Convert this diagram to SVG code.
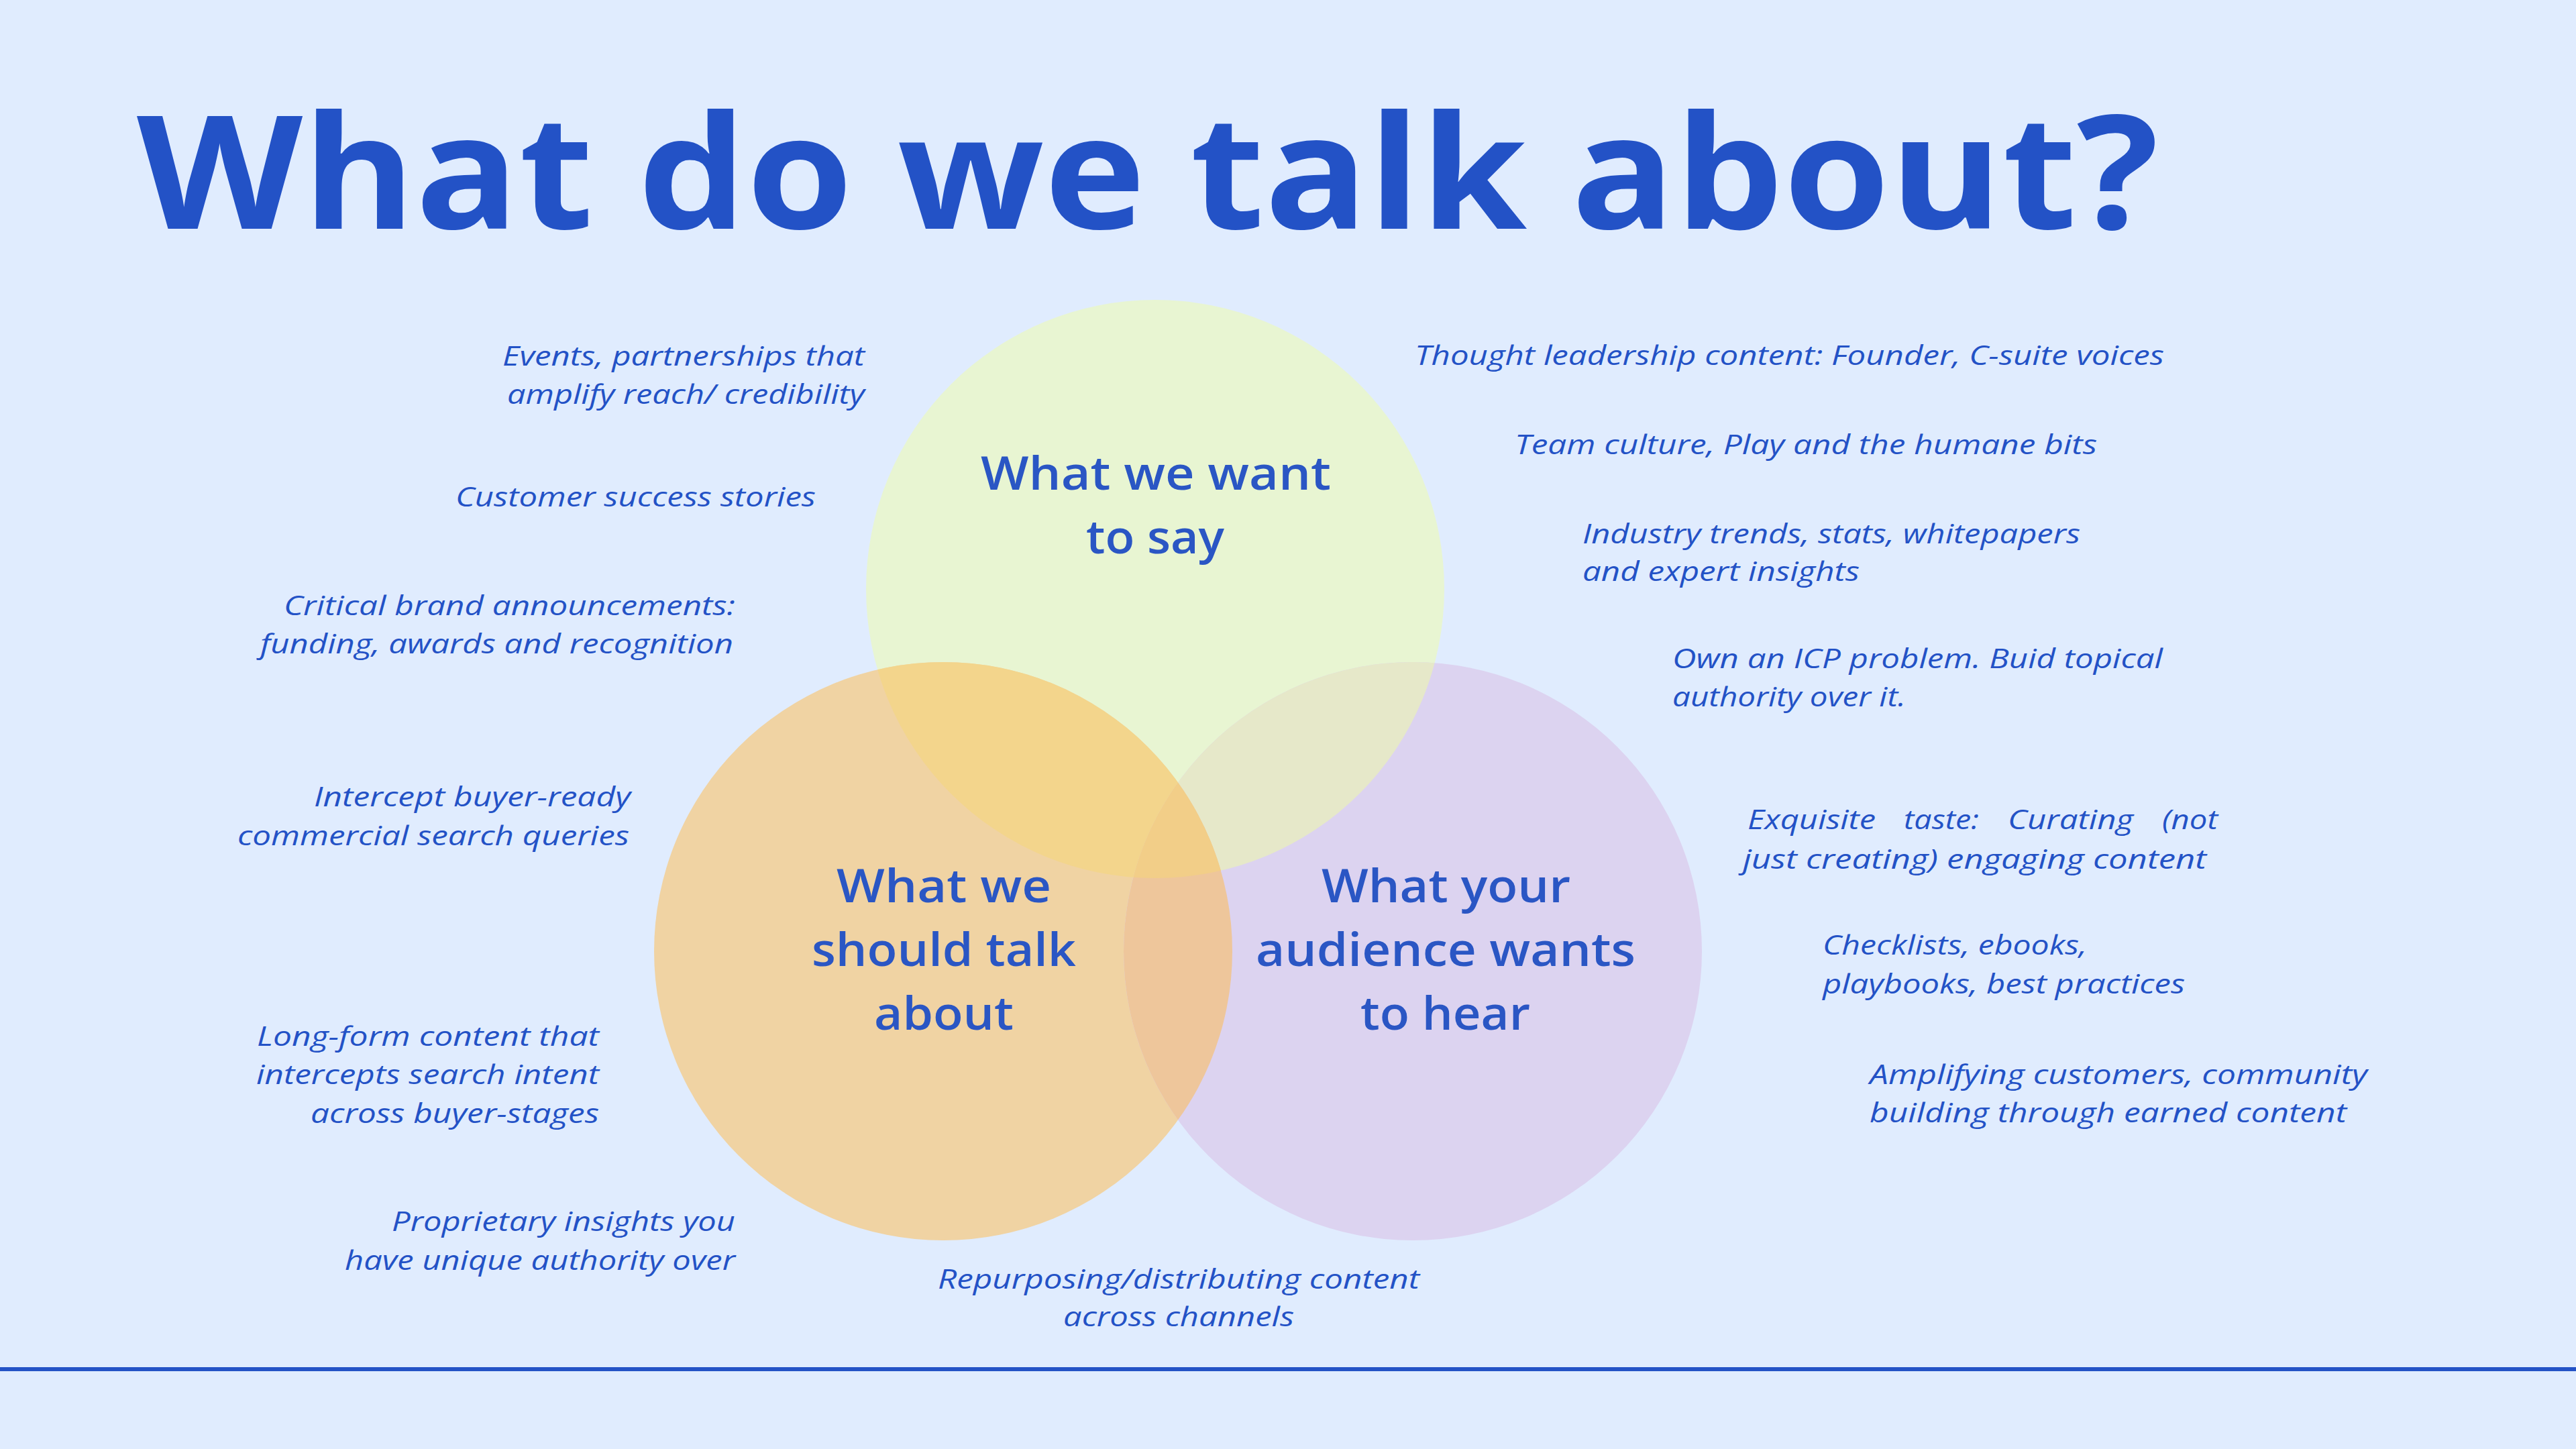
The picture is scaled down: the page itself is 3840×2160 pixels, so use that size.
<svg xmlns="http://www.w3.org/2000/svg" width="3840" height="2160" viewBox="0 0 3840 2160">
<style>
.title{font-family:"Open Sans","Noto Sans","Liberation Sans",sans-serif;font-weight:700;font-size:236px;fill:#2352C6}
.lbl{font-family:"Open Sans","Noto Sans","Liberation Sans",sans-serif;font-weight:600;font-size:68px;fill:#2A56C4}
.note{font-family:"Open Sans","Noto Sans","Liberation Sans",sans-serif;font-style:italic;font-weight:400;font-size:41px;fill:#2352C6}
</style>
<defs>
<clipPath id="clipY"><circle cx="1722" cy="878" r="431"/></clipPath>
<clipPath id="clipP"><circle cx="2106" cy="1418" r="431"/></clipPath>
</defs>
<rect x="0" y="0" width="3840" height="2160" fill="#E0ECFE"/>
<text class="title" x="204" y="341" textLength="3014" lengthAdjust="spacingAndGlyphs">What do we talk about?</text>

<g id="circles">
<circle cx="1722" cy="878" r="431" fill="#E8F5D2"/>
<circle cx="1406" cy="1418" r="431" fill="#F0D3A3"/>
<circle cx="2106" cy="1418" r="431" fill="#DCD3F0"/>
<g clip-path="url(#clipY)">
<circle cx="1406" cy="1418" r="431" fill="#F3D58C"/>
<circle cx="2106" cy="1418" r="431" fill="#E6E8C9"/>
</g>
<g clip-path="url(#clipP)">
<circle cx="1406" cy="1418" r="431" fill="#EEC69B"/>
</g>
<g clip-path="url(#clipY)"><g clip-path="url(#clipP)">
<circle cx="1406" cy="1418" r="431" fill="#F2CE88"/>
</g></g>
</g>

<g id="node-want-to-say">
<text class="lbl" x="1462" y="730" textLength="522" lengthAdjust="spacingAndGlyphs">What we want</text>
<text class="lbl" x="1619" y="825" textLength="206" lengthAdjust="spacingAndGlyphs">to say</text>
</g>
<g id="node-should-talk">
<text class="lbl" x="1247" y="1345" textLength="320" lengthAdjust="spacingAndGlyphs">What we</text>
<text class="lbl" x="1210" y="1440" textLength="394" lengthAdjust="spacingAndGlyphs">should talk</text>
<text class="lbl" x="1303" y="1535" textLength="208" lengthAdjust="spacingAndGlyphs">about</text>
</g>
<g id="node-audience">
<text class="lbl" x="1970" y="1345" textLength="371" lengthAdjust="spacingAndGlyphs">What your</text>
<text class="lbl" x="1872" y="1440" textLength="566" lengthAdjust="spacingAndGlyphs">audience wants</text>
<text class="lbl" x="2028" y="1535" textLength="253" lengthAdjust="spacingAndGlyphs">to hear</text>
</g>

<g id="notes-left">
<g id="n-events">
<text class="note" x="749" y="545" textLength="540" lengthAdjust="spacingAndGlyphs">Events, partnerships that</text>
<text class="note" x="756" y="602" textLength="533" lengthAdjust="spacingAndGlyphs">amplify reach/ credibility</text>
</g>
<g id="n-customer">
<text class="note" x="679" y="755" textLength="537" lengthAdjust="spacingAndGlyphs">Customer success stories</text>
</g>
<g id="n-critical">
<text class="note" x="423" y="917" textLength="673" lengthAdjust="spacingAndGlyphs">Critical brand announcements:</text>
<text class="note" x="388" y="974" textLength="705" lengthAdjust="spacingAndGlyphs">funding, awards and recognition</text>
</g>
<g id="n-intercept">
<text class="note" x="468" y="1202" textLength="472" lengthAdjust="spacingAndGlyphs">Intercept buyer-ready</text>
<text class="note" x="354" y="1260" textLength="584" lengthAdjust="spacingAndGlyphs">commercial search queries</text>
</g>
<g id="n-longform">
<text class="note" x="383" y="1559" textLength="510" lengthAdjust="spacingAndGlyphs">Long-form content that</text>
<text class="note" x="382" y="1616" textLength="511" lengthAdjust="spacingAndGlyphs">intercepts search intent</text>
<text class="note" x="463" y="1674" textLength="430" lengthAdjust="spacingAndGlyphs">across buyer-stages</text>
</g>
<g id="n-proprietary">
<text class="note" x="584" y="1835" textLength="512" lengthAdjust="spacingAndGlyphs">Proprietary insights you</text>
<text class="note" x="514" y="1893" textLength="582" lengthAdjust="spacingAndGlyphs">have unique authority over</text>
</g>
</g>

<g id="notes-right">
<g id="n-thought">
<text class="note" x="2109" y="544" textLength="1117" lengthAdjust="spacingAndGlyphs">Thought leadership content: Founder, C-suite voices</text>
</g>
<g id="n-team">
<text class="note" x="2258" y="677" textLength="868" lengthAdjust="spacingAndGlyphs">Team culture, Play and the humane bits</text>
</g>
<g id="n-industry">
<text class="note" x="2359" y="810" textLength="742" lengthAdjust="spacingAndGlyphs">Industry trends, stats, whitepapers</text>
<text class="note" x="2359" y="866" textLength="413" lengthAdjust="spacingAndGlyphs">and expert insights</text>
</g>
<g id="n-icp">
<text class="note" x="2493" y="996" textLength="731" lengthAdjust="spacingAndGlyphs">Own an ICP problem. Buid topical</text>
<text class="note" x="2493" y="1053" textLength="348" lengthAdjust="spacingAndGlyphs">authority over it.</text>
</g>
<g id="n-taste">
<text class="note" y="1236"><tspan x="2605" textLength="191" lengthAdjust="spacingAndGlyphs">Exquisite</tspan><tspan x="2838" textLength="112" lengthAdjust="spacingAndGlyphs">taste:</tspan><tspan x="2993" textLength="187" lengthAdjust="spacingAndGlyphs">Curating</tspan><tspan x="3223" textLength="83" lengthAdjust="spacingAndGlyphs">(not</tspan></text>
<text class="note" x="2598" y="1295" textLength="691" lengthAdjust="spacingAndGlyphs">just creating) engaging content</text>
</g>
<g id="n-checklists">
<text class="note" x="2717" y="1423" textLength="394" lengthAdjust="spacingAndGlyphs">Checklists, ebooks,</text>
<text class="note" x="2717" y="1481" textLength="540" lengthAdjust="spacingAndGlyphs">playbooks, best practices</text>
</g>
<g id="n-amplifying">
<text class="note" x="2787" y="1616" textLength="742" lengthAdjust="spacingAndGlyphs">Amplifying customers, community</text>
<text class="note" x="2787" y="1673" textLength="711" lengthAdjust="spacingAndGlyphs">building through earned content</text>
</g>
</g>

<g id="n-repurposing">
<text class="note" x="1398" y="1921" textLength="718" lengthAdjust="spacingAndGlyphs">Repurposing/distributing content</text>
<text class="note" x="1585" y="1977" textLength="344" lengthAdjust="spacingAndGlyphs">across channels</text>
</g>

<g id="connectors"></g>
<rect x="0" y="2038" width="3840" height="6" fill="#2453C6"/>
</svg>
